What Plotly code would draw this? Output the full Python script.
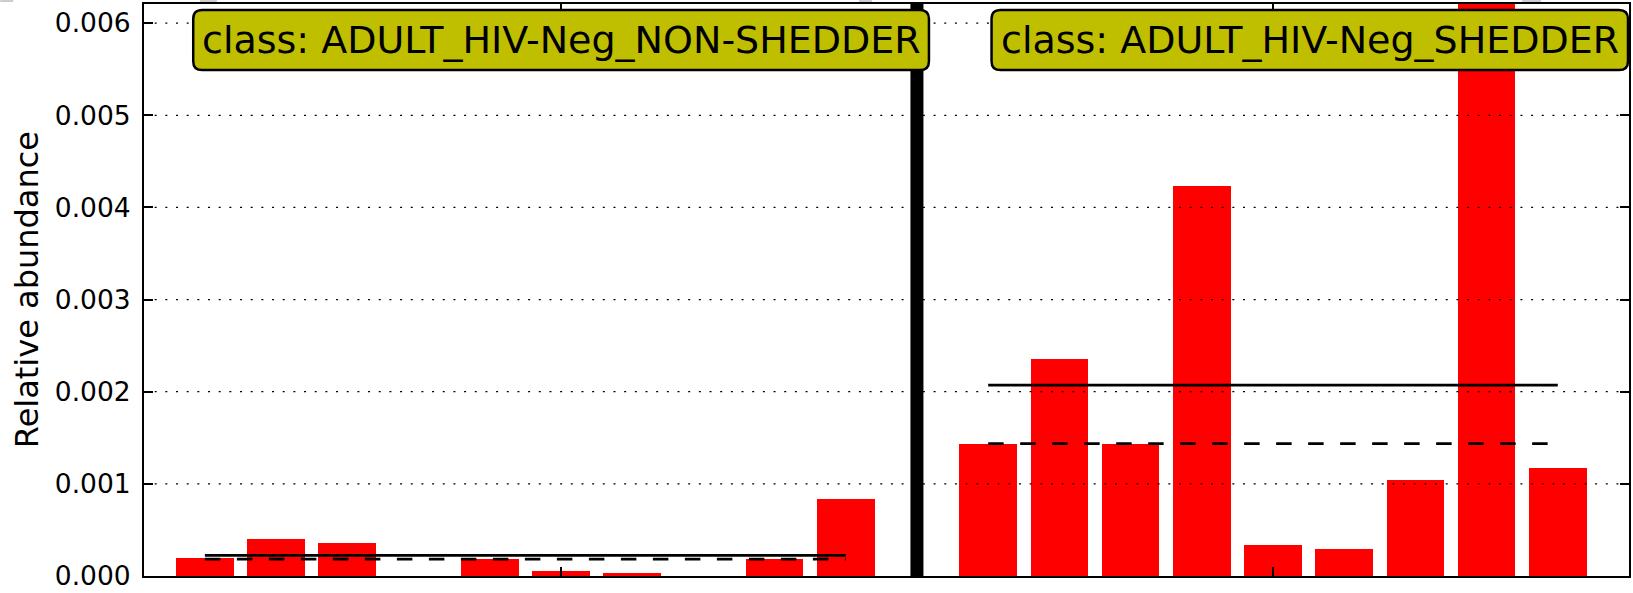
import plotly.graph_objects as go
import numpy as np

# ---- data ----
class_names = ["ADULT_HIV-Neg_NON-SHEDDER", "ADULT_HIV-Neg_SHEDDER"]
left_values = [0.00019, 0.000398, 0.000363, 0.0, 0.000183, 0.00005, 0.000032, 0.0, 0.000183, 0.000836]
right_values = [0.001436, 0.002356, 0.001436, 0.004231, 0.000334, 0.00029, 0.001044, 0.00634, 0.001169]
left_pos = list(range(0, 10))
right_pos = list(range(11, 20))
sep_pos = 10
y_ticks = [0.0, 0.001, 0.002, 0.003, 0.004, 0.005, 0.006]
y_ticktext = ["0.000", "0.001", "0.002", "0.003", "0.004", "0.005", "0.006"]
x_ticks = [5, 15]
y_label = "Relative abundance"

# ---- geometry (pixels) ----
W, H = 1633, 593
L, R, T, B = 144, 2, 4, 12
PW, PH = W - L - R, H - T - B
FONT = "DejaVu Sans"


def px(xp):
    return (xp - L) / PW


def py(yp):
    return (H - B - yp) / PH


def rounded_rect(x0, y0, x1, y1, r):
    # pixel coords -> paper path
    rx, ry = r / PW, r / PH
    a, b, c, d = px(x0), py(y1), px(x1), py(y0)  # left, bottom, right, top (paper)
    return (f"M {a+rx},{d} L {c-rx},{d} Q {c},{d} {c},{d-ry} "
            f"L {c},{b+ry} Q {c},{b} {c-rx},{b} L {a+rx},{b} "
            f"Q {a},{b} {a},{b+ry} L {a},{d-ry} Q {a},{d} {a+rx},{d} Z")


fig = go.Figure()
fig.add_trace(go.Bar(x=left_pos + right_pos, y=left_values + right_values,
                     width=0.81, marker=dict(color="#ff0000", line=dict(width=0)),
                     hoverinfo="skip"))

for pos, vals in [(left_pos, left_values), (right_pos, right_values)]:
    mean_v = float(np.mean(vals))
    med_v = float(np.median(vals))
    fig.add_trace(go.Scatter(x=[pos[0], pos[-1]], y=[mean_v, mean_v], mode="lines",
                             line=dict(color="black", width=2.8), hoverinfo="skip"))
    fig.add_trace(go.Scatter(x=[pos[0], pos[-1]], y=[med_v, med_v], mode="lines",
                             line=dict(color="black", width=2.8, dash="15.5px,16.5px"),
                             hoverinfo="skip"))

shapes = []
for yv in y_ticks[1:]:
    shapes.append(dict(type="line", xref="paper", x0=0, x1=1, yref="y", y0=yv, y1=yv,
                       line=dict(color="black", width=1.3, dash="2px,8.67px"), layer="above"))
shapes.append(dict(type="line", xref="x", x0=sep_pos, x1=sep_pos, yref="paper", y0=0, y1=1,
                   line=dict(color="black", width=13), layer="above"))

boxes = [(193.3, 10, 930, 70.7), (992.7, 10, 1630, 70.7)]
annotations = []
for (x0, y0, x1, y1), name in zip(boxes, class_names):
    shapes.append(dict(type="path", xref="paper", yref="paper", path=rounded_rect(x0, y0, x1, y1, 9),
                       fillcolor="#bfbf00", line=dict(color="black", width=2.5), layer="above"))
    annotations.append(dict(xref="paper", yref="paper", x=px((x0 + x1) / 2), y=py((y0 + y1) / 2),
                            text="class: " + name, showarrow=False, xanchor="center", yanchor="middle",
                            font=dict(family=FONT, size=38, color="black")))

# faint remnants of the panel above, cut at the top edge
for gx0, gx1 in [(0, 13), (200, 217), (860, 873), (1524, 1543)]:
    shapes.append(dict(type="rect", xref="paper", yref="paper", x0=px(gx0), x1=px(gx1),
                       y0=py(2), y1=py(0), fillcolor="#cccccc", line=dict(width=0), layer="above"))

annotations.append(dict(xref="paper", yref="paper", x=px(27), y=0.5, text=y_label, textangle=-90,
                        showarrow=False, xanchor="center", yanchor="middle",
                        font=dict(family=FONT, size=32, color="black")))

fig.update_layout(
    width=W, height=H, margin=dict(l=L, r=R, t=T, b=B),
    paper_bgcolor="white", plot_bgcolor="white", showlegend=False,
    bargap=0, shapes=shapes, annotations=annotations,
    font=dict(family=FONT, color="black"),
    xaxis=dict(range=[-0.855, 20.0], showgrid=False, zeroline=False, showline=True,
               linecolor="black", linewidth=2, mirror="ticks", ticks="inside",
               tickvals=x_ticks, ticklen=9, tickwidth=1.5, tickcolor="black",
               showticklabels=False),
    yaxis=dict(range=[0, 0.006208], showgrid=False, zeroline=False, showline=True,
               linecolor="black", linewidth=2, mirror="ticks", ticks="inside",
               tickvals=y_ticks, ticktext=y_ticktext, ticklen=9, tickwidth=1.5,
               tickcolor="black", tickfont=dict(family=FONT, size=26.5, color="black"),
               ticklabelstandoff=6, ticklabeloverflow="allow"),
)

fig.write_html("out.html", config={"displayModeBar": False},
               post_script="document.body.style.margin='0px';document.body.style.overflow='hidden';")
